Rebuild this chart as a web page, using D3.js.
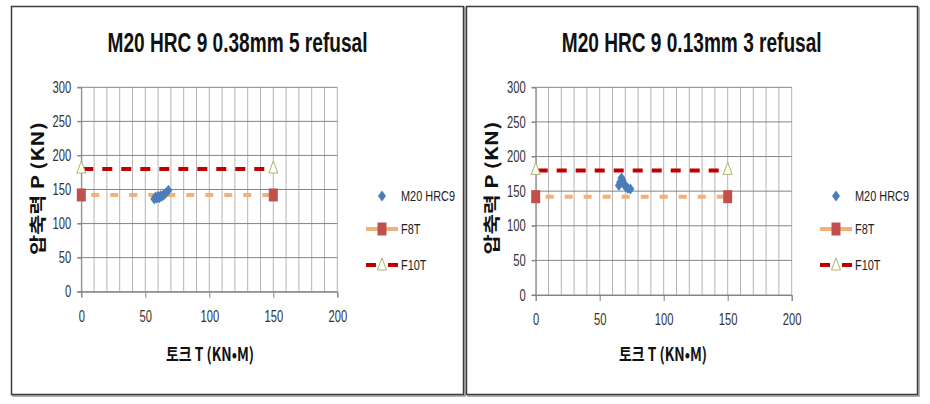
<!DOCTYPE html>
<html><head><meta charset="utf-8">
<script src="https://cdn.jsdelivr.net/npm/d3@7"></script>
<style>body{margin:0;background:#fff;}svg{display:block;}</style>
</head><body>
<svg id="c" width="930" height="404"></svg>
<script>
// ---- data ----
const titles = ["M20 HRC 9 0.38mm 5 refusal", "M20 HRC 9 0.13mm 3 refusal"];
const xTicks = [0, 50, 100, 150, 200];
const yTicks = [0, 50, 100, 150, 200, 250, 300];
const xMinor = d3.range(0, 201, 10);
const seriesNames = ["M20 HRC9", "F8T", "F10T"];
const leftHrcX = [57, 58, 59, 60, 61, 62, 63, 64, 65, 66, 68];
const leftHrcY = [136, 139, 137, 140, 138, 141, 140, 142, 143, 145, 149];
const rightHrcX = [65, 66, 67, 68, 69, 70, 71, 72, 74];
const rightHrcY = [158, 163, 169, 165, 160, 157, 156, 154, 153];
const f8tX = [0, 150];
const f8tY = [142, 142];
const f10tX = [0, 150];
const f10tY = [180, 180];
const xLabel = "토크 T (KN•M)";
const yLabel = "압축력 P (KN)";

const svg = d3.select("#c");
const FONT = "'Liberation Sans', Arial, sans-serif";
const KFONT = "'Noto Sans CJK KR', 'Liberation Sans', sans-serif";

// place a text at (x,y) and scale it horizontally to width w (or by factor f)
function scaledText(parent, x, y, str, opts) {
  const g = parent.append("g").attr("transform", `translate(${x},${y})`);
  const t = g.append("text").attr("x", 0).attr("y", 0)
    .attr("text-anchor", opts.anchor || "start")
    .attr("font-family", opts.family).attr("font-size", opts.size)
    .attr("font-weight", opts.weight || "normal").attr("fill", opts.fill || "#111").text(str);
  const n = t.node().getComputedTextLength();
  const f = opts.width ? opts.width / n : opts.f;
  t.attr("transform", `scale(${f},1)`);
  if (opts.rotate) g.attr("transform", `translate(${x},${y}) rotate(${opts.rotate})`);
  return g;
}

const panels = [
  { box: [11.5, 6.5, 452, 388], x0: 81.3, x1: 337.3, y0: 291.7, y1: 87.3, title: titles[0], tcx: 237.5,
    hx: leftHrcX, hy: leftHrcY, ylx: 44, yly: 188.5, xlx: 210, leg: 366 },
  { box: [466.5, 6.5, 451, 388], x0: 535.7, x1: 791.7, y0: 295, y1: 87.3, title: titles[1], tcx: 691.7,
    hx: rightHrcX, hy: rightHrcY, ylx: 497.7, yly: 188, xlx: 663, leg: 820 }
];

function diamond(g, cx, cy) {
  g.append("path").attr("d", `M${cx},${cy - 5.5}L${cx + 4},${cy}L${cx},${cy + 5.5}L${cx - 4},${cy}Z`).attr("fill", "#4A7EBB");
}
function square(g, cx, cy) {
  g.append("rect").attr("x", cx - 4.5).attr("y", cy - 6.5).attr("width", 9).attr("height", 13).attr("fill", "#C0504D");
}
function tri(g, cx, cy) {
  g.append("path").attr("d", `M${cx},${cy - 8}L${cx + 4.5},${cy + 4}L${cx - 4.5},${cy + 4}Z`)
    .attr("fill", "#FFFFF4").attr("stroke", "#A9B47A").attr("stroke-width", 1);
}

panels.forEach(p => {
  const g = svg.append("g");
  // shadow + border
  g.append("rect").attr("x", p.box[0] + 1.5).attr("y", p.box[1] + 1.5).attr("width", p.box[2]).attr("height", p.box[3])
    .attr("fill", "none").attr("stroke", "#9a9a9a").attr("stroke-width", 1.5);
  g.append("rect").attr("x", p.box[0]).attr("y", p.box[1]).attr("width", p.box[2]).attr("height", p.box[3])
    .attr("fill", "#fff").attr("stroke", "#3c3c3c").attr("stroke-width", 1.5);

  const x = d3.scaleLinear().domain([0, 200]).range([p.x0, p.x1]);
  const y = d3.scaleLinear().domain([0, 300]).range([p.y0, p.y1]);

  // title
  scaledText(g, p.tcx, 51.7, p.title, { anchor: "middle", family: FONT, size: 28, weight: "bold", width: 260 });

  // vertical minor grid
  g.append("g").selectAll("line").data(xMinor).join("line")
    .attr("x1", d => x(d)).attr("x2", d => x(d)).attr("y1", y(300)).attr("y2", y(0))
    .attr("stroke", "#b4b4b4").attr("stroke-width", 1);
  // horizontal grid
  g.append("g").selectAll("line").data(yTicks).join("line")
    .attr("x1", x(0) - 4).attr("x2", x(200)).attr("y1", d => y(d)).attr("y2", d => y(d))
    .attr("stroke", "#858585").attr("stroke-width", 1);

  // axes
  const ya = g.append("g").attr("transform", `translate(${x(0)},0)`)
    .call(d3.axisLeft(y).tickValues(yTicks).tickSize(4).tickPadding(10));
  const xa = g.append("g").attr("transform", `translate(0,${y(0)})`)
    .call(d3.axisBottom(x).tickValues(xTicks).tickSize(6).tickPadding(13));
  [ya, xa].forEach(a => {
    a.select(".domain").attr("stroke", "#858585");
    a.selectAll(".tick line").attr("stroke", "#858585");
    a.selectAll("text").attr("font-family", FONT).attr("font-size", 16).attr("fill", "#333");
  });
  // horizontally condense tick labels (scale about the label's anchor)
  ya.selectAll("text").attr("x", null).attr("transform", "translate(-10,0) scale(0.7,1)");
  xa.selectAll("text").attr("transform", "scale(0.7,1)");

  // axis titles
  scaledText(g, p.ylx, p.yly, yLabel, { anchor: "middle", family: KFONT, size: 17, weight: "bold", width: 133, rotate: -90 });
  scaledText(g, p.xlx, 361, xLabel, { anchor: "middle", family: KFONT, size: 18, weight: "bold", width: 88 });

  // series lines
  const line = d3.line().x(d => x(d[0])).y(d => y(d[1]));
  const f8 = f8tX.map((v, i) => [v, f8tY[i]]);
  const f10 = f10tX.map((v, i) => [v, f10tY[i]]);
  g.append("path").datum(f8).attr("d", line).attr("fill", "none").attr("stroke", "#F2B07A")
    .attr("stroke-width", 4).attr("stroke-dasharray", "8,11").attr("stroke-dashoffset", -10);
  g.append("path").datum(f10).attr("d", line).attr("fill", "none").attr("stroke", "#C00000")
    .attr("stroke-width", 4).attr("stroke-dasharray", "10,9").attr("stroke-dashoffset", -2);
  f8.forEach(d => square(g, x(d[0]), y(d[1])));
  f10.forEach(d => tri(g, x(d[0]), y(d[1])));
  p.hx.forEach((v, i) => diamond(g, x(v), y(p.hy[i])));

  // legend
  const lx = p.leg, cx = lx + 16, tx = lx + 35;
  const ly = [196, 229, 265];
  diamond(g, cx, ly[0]);
  g.append("line").attr("x1", lx).attr("x2", lx + 32).attr("y1", ly[1]).attr("y2", ly[1])
    .attr("stroke", "#F4B07A").attr("stroke-width", 4);
  square(g, cx, ly[1]);
  g.append("line").attr("x1", lx).attr("x2", lx + 32).attr("y1", ly[2]).attr("y2", ly[2])
    .attr("stroke", "#C00000").attr("stroke-width", 4).attr("stroke-dasharray", "10,12");
  tri(g, cx, ly[2] + 1);
  seriesNames.forEach((s, i) => {
    scaledText(g, tx, ly[i] + 5, s, { family: FONT, size: 14, fill: "#222", f: 0.78 });
  });
});
</script>
</body></html>
